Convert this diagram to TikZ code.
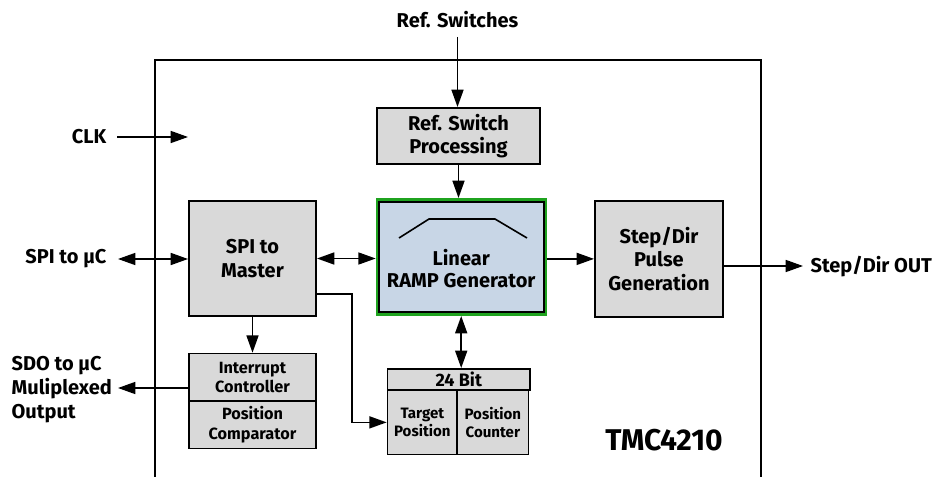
\documentclass[tikz,border=0pt]{standalone}
\usepackage{fontspec}
\setmainfont{Fira Sans}
\usepackage{xcolor}
\usetikzlibrary{positioning,arrows.meta}
\definecolor{boxgray}{HTML}{D9D9D9}
\definecolor{rampblue}{HTML}{C8D6E6}
\definecolor{rampgreen}{HTML}{1FA31F}
\tikzset{
    blk/.style={draw, line width=1.2pt, fill=boxgray, align=center, inner sep=0pt,
        font=\bfseries\fontsize{15}{17.5}\selectfont},
    smallblk/.style={blk, font=\bfseries\fontsize{12.2}{14.7}\selectfont},
    tinyblk/.style={blk, font=\bfseries\fontsize{11.3}{13}\selectfont},
    lbl/.style={font=\bfseries\fontsize{15}{18}\selectfont, align=left, inner sep=1pt},
    arr/.style={line width=1.2pt, -{Triangle[length=13pt,width=9pt]}},
    darr/.style={line width=1.2pt, {Triangle[length=13pt,width=9pt]}-{Triangle[length=13pt,width=9pt]}},
}

\begin{document}
\begin{tikzpicture}[x=0.75pt, y=-0.75pt]
    \useasboundingbox (0,0) rectangle (938,477);
    % chip outline, open at the bottom
    \draw[line width=1.2pt] (155,477) -- (155,60) -- (761,60) -- (761,477);

    % blocks
    \node[blk, minimum width=122.5pt, minimum height=42.3pt] (refsw) at (458.5,136) {Ref. Switch\\Processing};
    \node[blk, minimum width=95.5pt, minimum height=86.5pt] (spi) at (252.5,258.5) {SPI to\\Master};
    \node[blk, minimum width=96.3pt, minimum height=87pt] (step) at (659,258.9) {Step/Dir\\Pulse\\Generation};
    \node[draw=rampgreen, line width=2.25pt, fill=rampblue, minimum width=126pt, minimum height=86.25pt] (ramp) at (461.2,257) {};
    \node[blk, fill=rampblue, minimum width=123.75pt, minimum height=82.5pt] (rampin) at (461.2,257) {};
    \node[align=center, font=\bfseries\fontsize{15}{16.5}\selectfont] (ramptxt) at (461.2,269) {Linear\\RAMP Generator};
    \draw[line width=1.2pt] (399,238) -- (429,219) -- (495,219) -- (527,238);

    \node[smallblk, minimum width=95.5pt, minimum height=35.8pt] (irq) at (252.5,377.4) {Interrupt\\Controller};
    \node[smallblk, minimum width=95.5pt, minimum height=35.3pt, below=-1.2pt of irq] (poscmp) {Position\\Comparator};

    \node[blk, font=\bfseries\fontsize{13.5}{15}\selectfont, minimum width=107pt, minimum height=16pt] (bit24) at (458.8,379.5) {24 Bit};
    \node[tinyblk, minimum width=52.3pt, minimum height=48.3pt, below=-1.2pt of bit24.south west, anchor=north west] (target) {Target\\Position};
    \node[tinyblk, minimum width=53.5pt, minimum height=48.3pt, right=-1.2pt of target] (poscnt) {Position\\Counter};

    % outside labels
    \node[lbl] (refs) at (457.5,20) {Ref. Switches};
    \node[lbl, anchor=east] (clk) at (108,137) {CLK};
    \node[lbl, anchor=east] (spiuc) at (108,259) {SPI to µC};
    \node[lbl, anchor=west] (sdo) at (10,390) {SDO to µC\\Muliplexed\\Output};
    \node[lbl, anchor=west] (stepout) at (809,267) {Step/Dir OUT};
    \node[font=\bfseries\fontsize{22.5}{27}\selectfont] (tmc) at (664,440) {TMC4210};

    \coordinate (clkend) at (188,137);
    \coordinate (spiucend) at (118,259);
    \coordinate (sdoend) at (118,388);
    \coordinate (outend) at (803,266);
    \coordinate (spiout) at (352,294);

    % connectors
    \draw[arr] (refs.south |- 0,37) -- (refs.south |- refsw.north);
    \draw[arr] (refsw.south) -- (refsw.south |- ramp.north);
    \draw[arr] (clk.east |- clkend) ++(9,0) -- (clkend);
    \draw[darr] (spiucend) -- (spiucend -| spi.west);
    \draw[darr] (spi.east) -- (spi.east -| ramp.west);
    \draw[arr] (ramp.east |- step.west) -- (step.west);
    \draw[arr] (step.east |- outend) -- (outend);
    \draw[arr] (spi.south) -- (irq.north);
    \draw[arr] (irq.west |- sdoend) -- (sdoend);
    \draw[darr] (ramp.south) -- (ramp.south |- bit24.north);
    \draw[arr] (spi.east |- spiout) -- (spiout) |- (target.west);
\end{tikzpicture}
\end{document}
